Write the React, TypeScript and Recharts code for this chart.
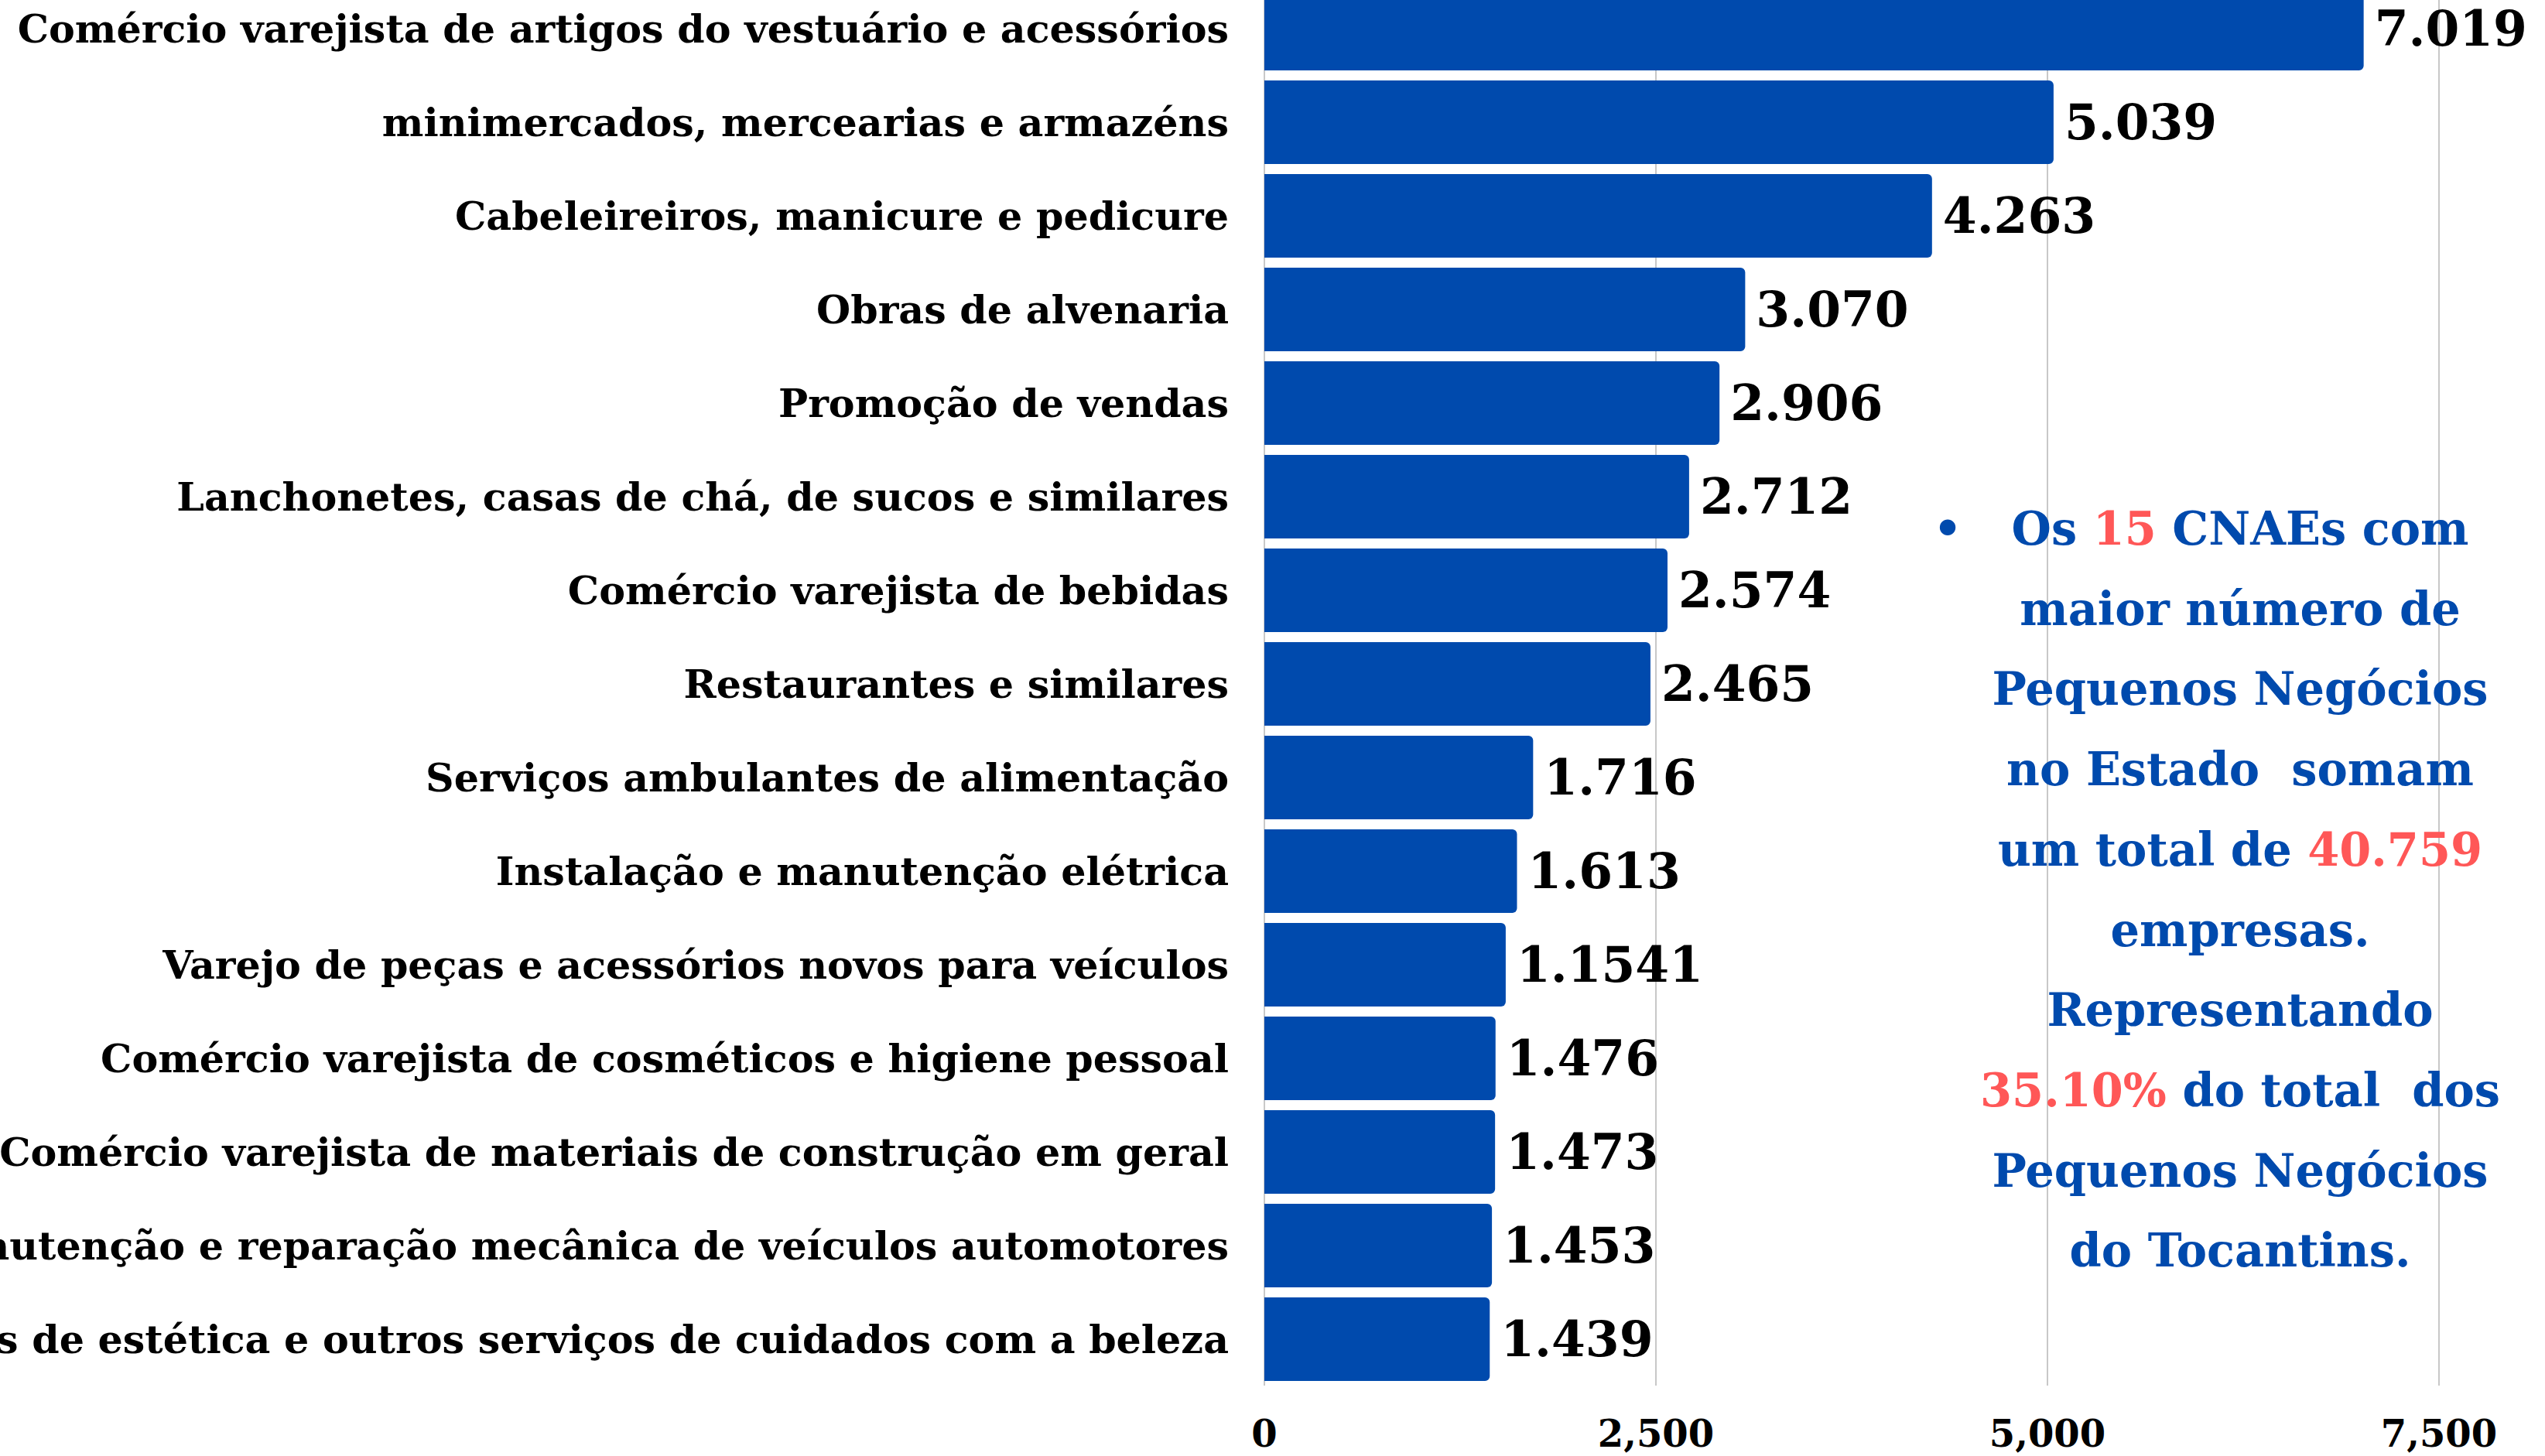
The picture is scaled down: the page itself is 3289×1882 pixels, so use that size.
import { BarChart, Bar, XAxis, YAxis, CartesianGrid, LabelList } from "recharts";

// CNAEs with the most small businesses in Tocantins
const categories = [
  "Comércio varejista de artigos do vestuário e acessórios",
  "minimercados, mercearias e armazéns",
  "Cabeleireiros, manicure e pedicure",
  "Obras de alvenaria",
  "Promoção de vendas",
  "Lanchonetes, casas de chá, de sucos e similares",
  "Comércio varejista de bebidas",
  "Restaurantes e similares",
  "Serviços ambulantes de alimentação",
  "Instalação e manutenção elétrica",
  "Varejo de peças e acessórios novos para veículos",
  "Comércio varejista de cosméticos e higiene pessoal",
  "Comércio varejista de materiais de construção em geral",
  "Manutenção e reparação mecânica de veículos automotores",
  "Atividades de estética e outros serviços de cuidados com a beleza",
];

const counts = [7019, 5039, 4263, 3070, 2906, 2712, 2574, 2465, 1716, 1613, 1541, 1476, 1473, 1453, 1439];

// labels as printed on the original (note "1.1541")
const countLabels = [
  "7.019", "5.039", "4.263", "3.070", "2.906", "2.712", "2.574", "2.465",
  "1.716", "1.613", "1.1541", "1.476", "1.473", "1.453", "1.439",
];

const xTicks = [0, 2500, 5000, 7500];

const data = categories.map((name, i) => ({
  name,
  value: counts[i],
  label: countLabels[i],
}));

const FONT = "'DejaVu Serif', serif";
const BLUE = "#004AAD";
const RED = "#FF5757";

function CategoryTick({ x, y, payload }: any) {
  return (
    <text
      x={x - 46}
      y={y}
      dy="0.36em"
      textAnchor="end"
      fontFamily={FONT}
      fontWeight="bold"
      fontSize={50.7}
      fill="#000"
    >
      {payload.value}
    </text>
  );
}

function ValueTick({ x, y, payload }: any) {
  return (
    <text
      x={x}
      y={y + 79}
      textAnchor="middle"
      fontFamily={FONT}
      fontWeight="bold"
      fontSize={48}
      fill="#000"
    >
      {Number(payload.value).toLocaleString("en-US")}
    </text>
  );
}

export default function App() {
  return (
    <div
      style={{
        position: "absolute",
        left: 0,
        top: 0,
        width: 3289,
        height: 1882,
        overflow: "hidden",
        background: "#fff",
      }}
    >
      <div style={{ position: "absolute", left: 0, top: -24 }}>
        <BarChart
          width={3289}
          height={1915}
          data={data}
          layout="vertical"
          margin={{ top: 0, right: 137, bottom: 0, left: 0 }}
        >
          <CartesianGrid horizontal={false} stroke="#c8c8c8" strokeWidth={2} />
          <XAxis
            type="number"
            domain={[0, 7500]}
            ticks={xTicks}
            height={100}
            axisLine={false}
            tickLine={false}
            tickSize={0}
            tickMargin={0}
            tick={<ValueTick />}
          />
          <YAxis
            type="category"
            dataKey="name"
            width={1634}
            interval={0}
            axisLine={false}
            tickLine={false}
            tickSize={0}
            tickMargin={0}
            tick={<CategoryTick />}
          />
          <Bar
            dataKey="value"
            fill={BLUE}
            barSize={108}
            radius={[0, 6, 6, 0]}
            isAnimationActive={false}
          >
            <LabelList
              dataKey="label"
              position="right"
              offset={14}
              fill="#000"
              fontFamily={FONT}
              fontWeight="bold"
              fontSize={63}
            />
          </Bar>
        </BarChart>
      </div>

      {/* bullet */}
      <div
        style={{
          position: "absolute",
          left: 2487,
          top: 632,
          width: 60,
          textAlign: "center",
          lineHeight: "103.7px",
          fontFamily: FONT,
          fontWeight: "bold",
          fontSize: 58,
          color: BLUE,
        }}
      >
        •
      </div>

      {/* annotation */}
      <div
        style={{
          position: "absolute",
          left: 2495,
          top: 632,
          width: 800,
          textAlign: "center",
          lineHeight: "103.7px",
          fontFamily: FONT,
          fontWeight: "bold",
          fontSize: 59,
          color: BLUE,
          whiteSpace: "pre",
        }}
      >
        <div>
          Os <span style={{ color: RED }}>15</span> CNAEs com
        </div>
        <div>maior número de</div>
        <div>Pequenos Negócios</div>
        <div>no Estado  somam</div>
        <div>
          um total de <span style={{ color: RED }}>40.759</span>
        </div>
        <div>empresas.</div>
        <div>Representando</div>
        <div>
          <span style={{ color: RED }}>35.10%</span> do total  dos
        </div>
        <div>Pequenos Negócios</div>
        <div>do Tocantins.</div>
      </div>
    </div>
  );
}
